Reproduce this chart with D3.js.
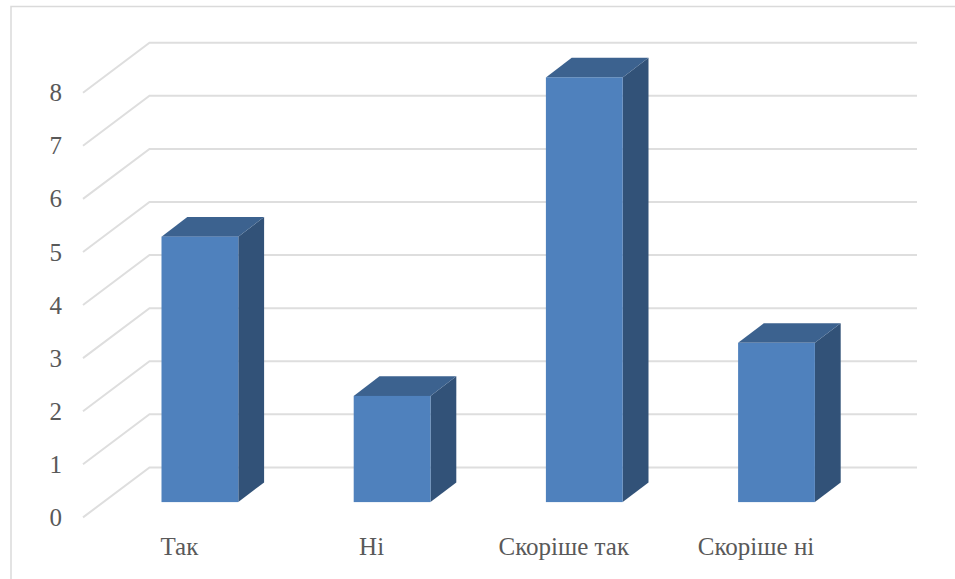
<!DOCTYPE html>
<html>
<head>
<meta charset="utf-8">
<script src="https://cdn.jsdelivr.net/npm/d3@7"></script>
<style>
html,body{margin:0;padding:0;background:#fff;overflow:hidden}
svg{display:block}
text{font-family:"Liberation Serif",serif;fill:#595959;font-size:25px}
</style>
</head>
<body>
<svg id="c" width="955" height="579"></svg>
<script>
const categories = ["Так", "Ні", "Скоріше так", "Скоріше ні"];
const values = [5, 2, 8, 3];
const yTicks = [0, 1, 2, 3, 4, 5, 6, 7, 8];

const svg = d3.select("#c");
const W = 955, H = 579;

// frame (cropped at right & bottom)
svg.append("path").attr("d", `M11,${H}V6.5H${W}`).attr("fill","none").attr("stroke","#dadada").attr("stroke-width",1.5);

// scales
const y = d3.scaleLinear().domain([0, 8]).range([517.4, 92.7]);
const step = 192.2, barW = 76.8, left = 161.5 - (step - barW) / 2;
const x = d3.scaleBand().domain(categories).range([left, left + step * 4]).paddingInner((step - barW) / step).paddingOuter((step - barW) / step / 2);

// depth of the floor/back wall and of the bars
const wallDx = 66.5, wallDy = -50, barDx = 25.8, barDy = -19.7, barFloor = -15.3;
const gridRight = 917;

// gridlines
svg.append("g").selectAll("path").data(yTicks).join("path")
  .attr("d", d => `M83,${y(d)}L${83 + wallDx},${y(d) + wallDy}H${gridRight}`)
  .attr("fill", "none").attr("stroke", "#dedede").attr("stroke-width", 2);

// y labels
svg.append("g").selectAll("text").data(yTicks).join("text")
  .attr("x", 62).attr("y", d => y(d) + 8.6)
  .attr("text-anchor", "end").text(d => d);

// bars
const bars = svg.append("g").selectAll("g").data(categories).join("g");
const vy = (i) => y(values[i]) + barFloor;
bars.append("path") // side
  .attr("d", (c, i) => { const r = x(c) + barW, t = vy(i), b = y(0) + barFloor;
    return `M${r},${t}L${r + barDx},${t + barDy}V${b + barDy}L${r},${b}Z`; })
  .attr("fill", "#325278");
bars.append("path") // top
  .attr("d", (c, i) => { const l = x(c), t = vy(i);
    return `M${l},${t}L${l + barDx},${t + barDy}H${l + barW + barDx}L${l + barW},${t}Z`; })
  .attr("fill", "#3c628f");
bars.append("rect") // front
  .attr("x", c => x(c)).attr("width", barW)
  .attr("y", (c, i) => vy(i)).attr("height", (c, i) => y(0) - y(values[i]))
  .attr("fill", "#4f81bd");

// category labels
svg.append("g").selectAll("text").data(categories).join("text")
  .attr("x", c => x(c) + barW / 2 - 20.5).attr("y", 555)
  .attr("text-anchor", "middle").text(c => c);
</script>
</body>
</html>
